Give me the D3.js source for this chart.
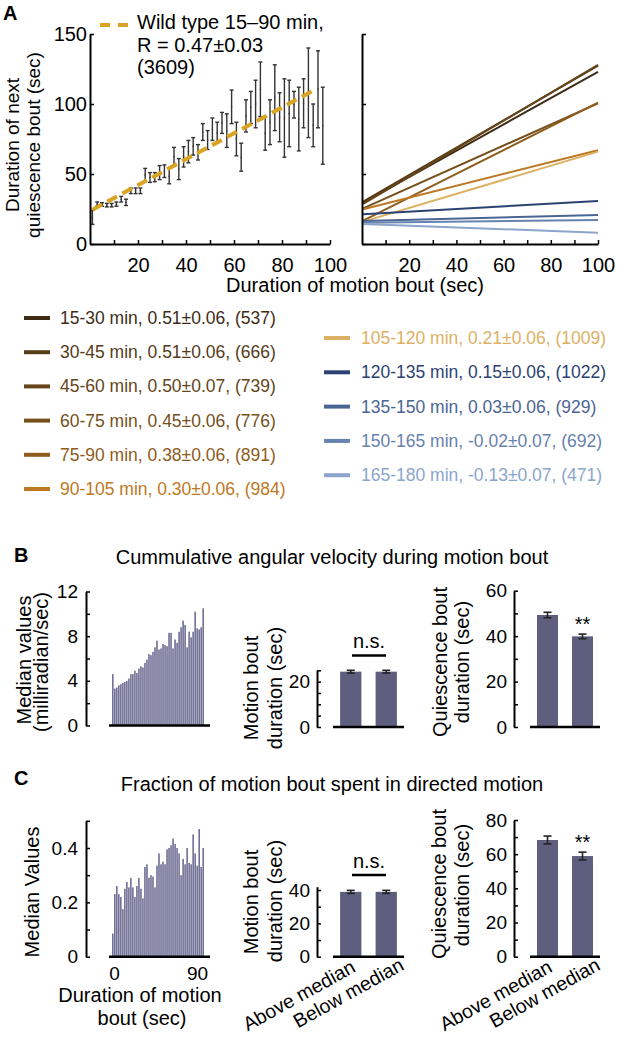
<!DOCTYPE html>
<html>
<head>
<meta charset="utf-8">
<title>Motion bout vs quiescence bout</title>
<script src="https://d3js.org/d3.v7.min.js"></script>
<style>
  body { margin: 0; background: #fff; }
  svg { font-family: "Liberation Sans", Arial, Helvetica, sans-serif; }
</style>
</head>
<body>
<svg id="fig" width="617" height="1037"></svg>
<script>
// ---------- data ----------
// panel A left: binned motion bout duration vs next quiescence bout (mean +/- error)
const binX = [1, 3, 5, 7, 9, 11, 13, 15, 17, 19, 21, 23, 25, 27, 29, 31, 33, 35, 37, 39, 41, 43, 45, 47, 49,
  51, 53, 55, 57, 59, 61, 63, 65, 67, 69, 71, 73, 75, 77, 79, 81, 83, 85, 87, 89, 91, 93, 95, 97];
const quiesLo = [14, 27, 27, 26.5, 26.5, 27, 30, 27.5, 36, 36, 36, 44.5, 44, 44.5, 46, 47.5, 43, 56, 46, 55, 58, 63.5, 60, 74, 67.5,
  74, 72, 79, 69, 86, 63, 52, 80, 86, 83, 91, 67, 71, 81, 73, 62, 69.5, 90, 66.5, 83, 76, 69.5, 83, 57];
const quiesHi = [24, 30, 29.5, 29, 29, 30, 34, 32, 40, 40, 40, 54, 51, 51, 56, 56.5, 54, 69, 61, 69.5, 74, 76, 71, 86, 81,
  90, 87, 94, 93, 110, 87, 72, 103, 109, 117, 130, 91, 103, 128, 108, 118, 117, 109, 112, 118, 140, 100, 138, 112];
const fitX = [1, 94];
const fitY = [24.5, 110.5];

// panel A right: regression lines per time window
const groups = ["15-30 min", "30-45 min", "45-60 min", "60-75 min", "75-90 min", "90-105 min",
  "105-120 min", "120-135 min", "135-150 min", "150-165 min", "165-180 min"];
const groupR = ["0.51±0.06", "0.51±0.06", "0.50±0.07", "0.45±0.06", "0.38±0.06", "0.30±0.06",
  "0.21±0.06", "0.15±0.06", "0.03±0.06", "-0.02±0.07", "-0.13±0.07"];
const groupN = [537, 666, 739, 776, 891, 984, 1009, 1022, 929, 692, 471];
const lineX = [0.5, 100];
const lineStart = [29.5, 30.2, 28.6, 25.5, 16.7, 24.8, 16, 21.2, 16.4, 15.2, 14.3];
const lineEnd = [123, 127.4, 128, 100.5, 101, 67, 66, 30.7, 20.7, 17.1, 8.1];
const groupColors = ["#3e2c17", "#553b18", "#654519", "#76501b", "#8e5c1d", "#bd7823",
  "#dcb163", "#2c4272", "#4a6594", "#6782ae", "#8ba5cc"];

// panel B / C histograms: median values per motion-bout duration bin
const angVel = [4.6, 3.3, 3.4, 3.6, 3.7, 3.8, 3.9, 4.0, 4.2, 4.6, 4.6, 4.9, 4.7, 5.1, 5.3, 5.2, 5.6, 5.9, 6.4, 6.3,
  6.6, 7.0, 7.6, 6.8, 6.9, 7.3, 7.2, 7.1, 8.3, 8.3, 6.9, 7.7, 7.4, 8.4, 8.8, 9.4, 9.0, 7.0, 8.4, 7.9,
  8.4, 10.2, 8.7, 8.6, 8.8, 10.5];
const dirFrac = [0.085, 0.23, 0.26, 0.23, 0.22, 0.175, 0.25, 0.275, 0.255, 0.29, 0.255, 0.22, 0.26, 0.29, 0.25, 0.215,
  0.33, 0.34, 0.29, 0.30, 0.295, 0.255, 0.335, 0.38, 0.34, 0.35, 0.34, 0.395, 0.40, 0.41, 0.435, 0.415,
  0.40, 0.38, 0.30, 0.36, 0.34, 0.40, 0.345, 0.34, 0.45, 0.38, 0.335, 0.47, 0.33, 0.40];
const histTicks = [0, 90];

// above / below median comparisons
const medianGroups = ["Above median", "Below median"];
const angMotion = [24.4, 24.4], angMotionErr = [0.6, 0.6];
const angQuies = [49.3, 39.9], angQuiesErr = [1.2, 1.0];
const dirMotion = [38.9, 38.9], dirMotionErr = [0.9, 0.9];
const dirQuies = [68.3, 58.9], dirQuiesErr = [2.3, 2.3];

// ---------- drawing ----------
const svg = d3.select("#fig");
const FF = '"Liberation Sans", Arial, Helvetica, sans-serif';

function styleAxis(g, size) {
  g.attr("font-family", FF).attr("font-size", size);
  g.select(".domain").attr("stroke", "#000").attr("stroke-width", 2);
  g.selectAll(".tick line").attr("stroke", "#000").attr("stroke-width", 1.5);
  g.selectAll(".tick text").attr("fill", "#000");
}

function label(x, y, str, size, opts = {}) {
  return svg.append("text").attr("x", x).attr("y", y)
    .attr("font-size", size)
    .attr("font-weight", opts.bold ? "bold" : null)
    .attr("text-anchor", opts.anchor || "start")
    .attr("fill", opts.fill || "#000")
    .text(str);
}

function vLabel(x, y, str, size) {
  svg.append("text").attr("transform", `translate(${x},${y}) rotate(-90)`)
    .attr("text-anchor", "middle").attr("font-size", size).text(str);
}

// ===== Panel A =====
const xA = d3.scaleLinear().domain([0, 100]).range([90, 330]);
const xA2 = d3.scaleLinear().domain([0, 100]).range([362, 598]);
const yA = d3.scaleLinear().domain([0, 150]).range([244, 34]);

label(3, 20, "A", 20, { bold: true });

// error bars
const eb = svg.append("g").attr("stroke", "#333").attr("stroke-width", 1.4);
binX.forEach((x, i) => {
  const px = xA(x), y1 = yA(quiesLo[i]), y2 = yA(quiesHi[i]);
  eb.append("line").attr("x1", px).attr("x2", px).attr("y1", y1).attr("y2", y2);
  eb.append("line").attr("x1", px - 2).attr("x2", px + 2).attr("y1", y1).attr("y2", y1);
  eb.append("line").attr("x1", px - 2).attr("x2", px + 2).attr("y1", y2).attr("y2", y2);
  eb.append("circle").attr("cx", px).attr("cy", yA((quiesLo[i] + quiesHi[i]) / 2)).attr("r", 0.8)
    .attr("fill", "#333").attr("stroke", "none");
});

// fitted line
svg.append("path")
  .attr("d", d3.line().x(d => xA(d[0])).y(d => yA(d[1]))(d3.zip(fitX, fitY)))
  .attr("fill", "none").attr("stroke", "#d9a424").attr("stroke-width", 4)
  .attr("stroke-dasharray", "11,6");

// top legend
svg.append("line").attr("x1", 100).attr("x2", 128).attr("y1", 25).attr("y2", 25)
  .attr("stroke", "#d9a424").attr("stroke-width", 4).attr("stroke-dasharray", "10,8");
label(137, 29, "Wild type 15–90 min,", 20);
label(137, 52, "R = 0.47±0.03", 20);
label(137, 74, "(3609)", 20);

// right panel lines
const gl = svg.append("g");
groups.forEach((g, i) => {
  gl.append("line")
    .attr("x1", xA2(lineX[0])).attr("y1", yA(lineStart[i]))
    .attr("x2", xA2(lineX[1])).attr("y2", yA(lineEnd[i]))
    .attr("stroke", groupColors[i]).attr("stroke-width", 2);
});

const xTicks = d3.range(10, 101, 10);
[xA, xA2].forEach(sc => {
  svg.append("g").attr("transform", `translate(0,${yA(0)})`)
    .call(d3.axisBottom(sc).tickValues(xTicks).tickFormat(v => v % 20 === 0 ? v : "")
      .tickSize(-4).tickSizeOuter(0).tickPadding(14))
    .call(styleAxis, 20);
});
svg.append("g").attr("transform", `translate(${xA(0)},0)`)
  .call(d3.axisLeft(yA).tickValues([0, 50, 100, 150]).tickSize(-4).tickSizeOuter(0).tickPadding(3))
  .call(styleAxis, 20);
svg.append("g").attr("transform", `translate(${xA2(0)},0)`)
  .call(d3.axisLeft(yA).tickValues([0, 50, 100, 150]).tickFormat("").tickSize(-4).tickSizeOuter(0))
  .call(styleAxis, 20);

vLabel(19, 145, "Duration of next", 19);
vLabel(40, 145, "quiescence bout (sec)", 19);
label(355, 292, "Duration of motion bout (sec)", 20, { anchor: "middle" });

// bottom legend
groups.forEach((g, i) => {
  const left = i < 6;
  const y = left ? 318 + i * 34.2 : 338 + (i - 6) * 34.3;
  const x0 = left ? 24 : 324;
  svg.append("line").attr("x1", x0).attr("x2", x0 + 26).attr("y1", y).attr("y2", y)
    .attr("stroke", groupColors[i]).attr("stroke-width", 4);
  label(x0 + (left ? 36 : 37), y + 6, `${g}, ${groupR[i]}, (${groupN[i]})`, 17.5, { fill: groupColors[i] });
});

// ===== Panels B / C helpers =====
function histogram(values, y, ticks, labels, fmt) {
  const xb = d3.scaleBand().domain(d3.range(values.length)).range([112, 204]).paddingInner(0.2);
  svg.append("g").selectAll("rect").data(values).join("rect")
    .attr("x", (d, i) => xb(i)).attr("width", xb.bandwidth())
    .attr("y", d => y(d)).attr("height", d => y(0) - y(d))
    .attr("fill", "#707096");
  svg.append("line").attr("x1", 109).attr("x2", 210).attr("y1", y(0)).attr("y2", y(0))
    .attr("stroke", "#000").attr("stroke-width", 2.5);
  svg.append("g").attr("transform", "translate(86,0)")
    .call(d3.axisLeft(y).tickValues(ticks)
      .tickFormat(v => labels.some(l => Math.abs(l - v) < 1e-9) ? fmt(v) : "")
      .tickSize(-4).tickSizeOuter(0).tickPadding(8))
    .call(styleAxis, 19);
}

function barChart(range, axisX, y, values, errs, ticks, labels, withNames) {
  const xb = d3.scaleBand().domain(medianGroups).range(range).paddingInner(0.4).paddingOuter(0.2);
  const g = svg.append("g");
  g.selectAll("rect").data(values).join("rect")
    .attr("x", (d, i) => xb(medianGroups[i])).attr("width", xb.bandwidth())
    .attr("y", d => y(d)).attr("height", d => y(0) - y(d))
    .attr("fill", "#5e5e7e");
  values.forEach((v, i) => {
    const cx = xb(medianGroups[i]) + xb.bandwidth() / 2;
    const e = g.append("g").attr("stroke", "#222").attr("stroke-width", 1.6);
    e.append("line").attr("x1", cx).attr("x2", cx).attr("y1", y(v - errs[i])).attr("y2", y(v + errs[i]));
    e.append("line").attr("x1", cx - 4).attr("x2", cx + 4).attr("y1", y(v - errs[i])).attr("y2", y(v - errs[i]));
    e.append("line").attr("x1", cx - 4).attr("x2", cx + 4).attr("y1", y(v + errs[i])).attr("y2", y(v + errs[i]));
  });
  g.append("line").attr("x1", range[0]).attr("x2", range[1]).attr("y1", y(0)).attr("y2", y(0))
    .attr("stroke", "#000").attr("stroke-width", 2.5);
  svg.append("g").attr("transform", `translate(${axisX},0)`)
    .call(d3.axisLeft(y).tickValues(ticks).tickFormat(v => labels.includes(v) ? v : "")
      .tickSize(-4).tickSizeOuter(0).tickPadding(7))
    .call(styleAxis, 19);
  if (withNames) {
    // rotated category names, anchored at their end under each bar
    const off = [[6, 971], [19, 969]];
    medianGroups.forEach((name, i) => {
      const cx = xb(name) + xb.bandwidth() / 2 + off[i][0];
      svg.append("text").attr("transform", `translate(${cx},${off[i][1]}) rotate(-29)`)
        .attr("text-anchor", "end").attr("font-size", 19.5).text(name);
    });
  }
  return xb;
}

// ===== Panel B =====
label(14, 562, "B", 20, { bold: true });
label(332, 564, "Cummulative angular velocity during motion bout", 20, { anchor: "middle" });

const yB1 = d3.scaleLinear().domain([0, 12]).range([725.5, 591.5]);
histogram(angVel, yB1, d3.range(0, 13, 2), [0, 4, 8, 12], d3.format("d"));
vLabel(31, 660, "Median values", 20);
vLabel(48, 662, "(milliradian/sec)", 20);

const yB2 = d3.scaleLinear().domain([0, 25]).range([727, 670.3]);
barChart([333, 404], 317, yB2, angMotion, angMotionErr, d3.range(0, 26, 5), [0, 20], false);
vLabel(258, 688, "Motion bout", 20);
vLabel(282, 688, "duration (sec)", 20);
label(369, 648, "n.s.", 20, { anchor: "middle" });
svg.append("line").attr("x1", 352).attr("x2", 386).attr("y1", 655.5).attr("y2", 655.5)
  .attr("stroke", "#000").attr("stroke-width", 2.5);

const yB3 = d3.scaleLinear().domain([0, 60]).range([727, 590.7]);
const xbB3 = barChart([530, 600], 514, yB3, angQuies, angQuiesErr, d3.range(0, 61, 10), [0, 20, 40, 60], false);
vLabel(447, 662, "Quiescence bout", 20);
vLabel(469, 662, "duration (sec)", 20);
label(xbB3("Below median") + xbB3.bandwidth() / 2, 631, "**", 20, { anchor: "middle" });

// ===== Panel C =====
label(14, 785, "C", 20, { bold: true });
label(332, 791, "Fraction of motion bout spent in directed motion", 20, { anchor: "middle" });

const yC1 = d3.scaleLinear().domain([0, 0.5]).range([956.7, 820.8]);
histogram(dirFrac, yC1, d3.range(6).map(i => i / 10), [0, 0.2, 0.4], v => v === 0 ? "0" : d3.format(".1f")(v));
vLabel(39, 892, "Median Values", 20);
const xHist = d3.scaleLinear().domain([0, 90]).range([114.6, 197.6]);
svg.append("g").selectAll("text").data(histTicks).join("text")
  .attr("x", d => xHist(d)).attr("y", 980).attr("text-anchor", "middle").attr("font-size", 19)
  .text(d => d);
label(140, 1002, "Duration of motion", 20, { anchor: "middle" });
label(142, 1025, "bout (sec)", 20, { anchor: "middle" });

const yC2 = d3.scaleLinear().domain([0, 42]).range([956.7, 886.7]);
barChart([333, 404], 317, yC2, dirMotion, dirMotionErr, d3.range(0, 41, 10), [0, 20, 40], true);
vLabel(258, 902, "Motion bout", 20);
vLabel(282, 901, "duration (sec)", 20);
label(369, 868, "n.s.", 20, { anchor: "middle" });
svg.append("line").attr("x1", 352).attr("x2", 386).attr("y1", 875).attr("y2", 875)
  .attr("stroke", "#000").attr("stroke-width", 2.5);

const yC3 = d3.scaleLinear().domain([0, 80]).range([956.7, 820]);
const xbC3 = barChart([530, 600], 514, yC3, dirQuies, dirQuiesErr, d3.range(0, 81, 10), [0, 20, 40, 60, 80], true);
vLabel(446, 884, "Quiescence bout", 20);
vLabel(469, 885, "duration (sec)", 20);
label(xbC3("Below median") + xbC3.bandwidth() / 2, 849, "**", 20, { anchor: "middle" });
</script>
</body>
</html>
